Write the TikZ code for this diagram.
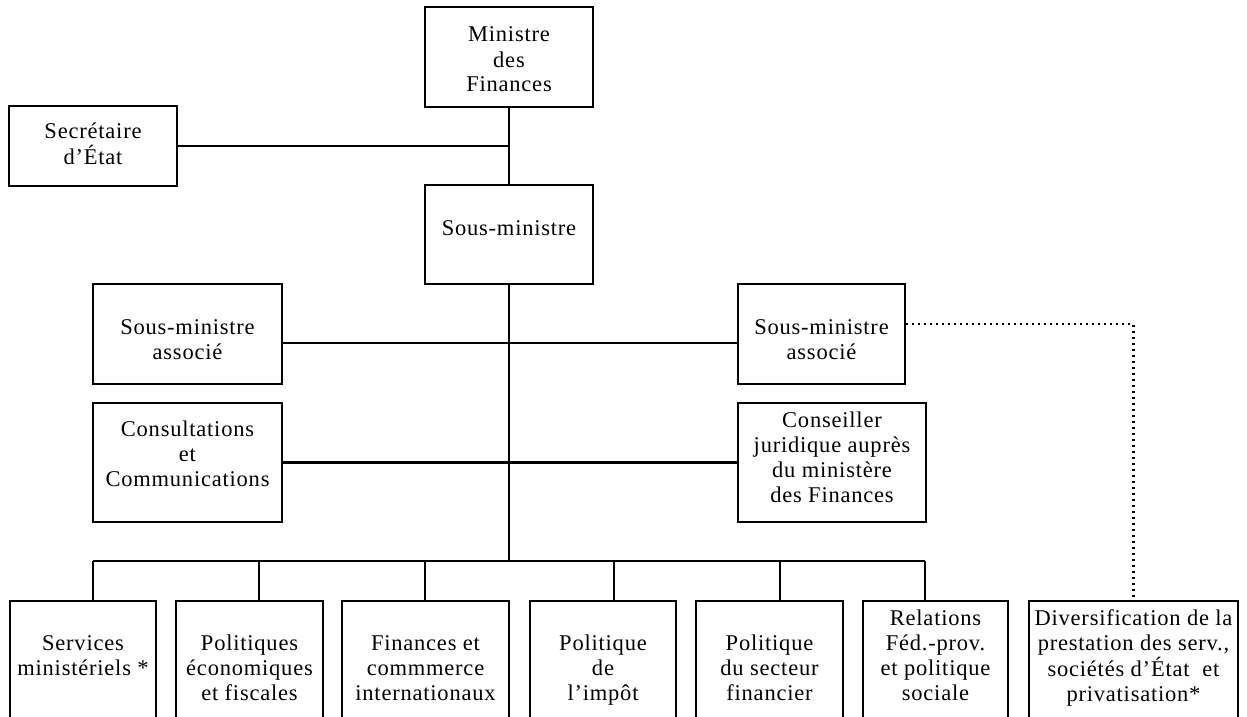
\documentclass[tikz,border=0pt]{standalone}
\usepackage{fontspec}
\setmainfont{Liberation Serif}[LetterSpace=3.5]
\newcommand\boxtext[1]{\begin{tabular}[t]{@{}c@{}}#1\end{tabular}}
\begin{document}
\begin{tikzpicture}[x=1pt,y=-1pt,
  orgbox/.style={draw, line width=2pt, inner sep=0pt},
  txt/.style={anchor=base, inner sep=0pt, font=\fontsize{22.5}{25}\selectfont},
  link/.style={line width=2.1pt},
  thinlink/.style={line width=1.4pt},
  dotlink/.style={line width=2.2pt, dash pattern=on 2.4pt off 3.6pt}]
\useasboundingbox (0,0) rectangle (1247,717);
\clip (0,0) rectangle (1247,717);
% boxes
\node[orgbox, minimum width=168pt, minimum height=100pt] (min) at (509,57) {};
\node[orgbox, minimum width=168pt, minimum height=80pt] (sec) at (93,146) {};
\node[orgbox, minimum width=168pt, minimum height=99pt] (sm) at (509,234.5) {};
\node[orgbox, minimum width=189pt, minimum height=100pt] (la) at (187.5,334) {};
\node[orgbox, minimum width=167pt, minimum height=100pt] (ra) at (821.5,334) {};
\node[orgbox, minimum width=189pt, minimum height=119pt] (cc) at (187.5,462.5) {};
\node[orgbox, minimum width=188pt, minimum height=119pt] (cj) at (832,462.5) {};
\node[orgbox, minimum width=146pt, minimum height=129pt] (b1) at (83,665.5) {};
\node[orgbox, minimum width=147pt, minimum height=129pt] (b2) at (249.5,665.5) {};
\node[orgbox, minimum width=167pt, minimum height=129pt] (b3) at (425.5,665.5) {};
\node[orgbox, minimum width=146pt, minimum height=129pt] (b4) at (603,665.5) {};
\node[orgbox, minimum width=147pt, minimum height=129pt] (b5) at (769.5,665.5) {};
\node[orgbox, minimum width=145pt, minimum height=129pt] (b6) at (935.5,665.5) {};
\node[orgbox, minimum width=209pt, minimum height=129pt] (b7) at (1133.5,665.5) {};
% texts
\node[txt] (tmin) at (509,42) {\boxtext{Ministre\\des\\Finances}};
\node[txt] (tsec) at (93,138) {\boxtext{Secrétaire\\d’État}};
\node[txt] (tsm) at (509,235) {\boxtext{Sous-ministre}};
\node[txt] (tla) at (187.5,334) {\boxtext{Sous-ministre\\associé}};
\node[txt] (tra) at (821.5,334) {\boxtext{Sous-ministre\\associé}};
\node[txt] (tcc) at (187.5,436) {\boxtext{Consultations\\et\\Communications}};
\node[txt] (tcj) at (832,427) {\boxtext{Conseiller\\juridique auprès\\du ministère\\des Finances}};
\node[txt] (tb1) at (83,650) {\boxtext{Services\\ministériels *}};
\node[txt] (tb2) at (249.5,650) {\boxtext{Politiques\\économiques\\et fiscales}};
\node[txt] (tb3) at (425.5,650) {\boxtext{Finances et\\commmerce\\internationaux}};
\node[txt] (tb4) at (603,650) {\boxtext{Politique\\de\\l’impôt}};
\node[txt] (tb5) at (769.5,650) {\boxtext{Politique\\du secteur\\financier}};
\node[txt] (tb6) at (935.5,625) {\boxtext{Relations\\Féd.-prov.\\et politique\\sociale}};
\node[txt] (tb7) at (1133.5,625) {\boxtext{Diversification de la\\prestation des serv.,\\sociétés d’État\ \ et\\privatisation*}};
% connectors
\coordinate (bus) at (509,561);
\coordinate (k1) at (93,561);
\coordinate (k2) at (259,561);
\coordinate (k3) at (425,561);
\coordinate (k4) at (614,561);
\coordinate (k5) at (780,561);
\coordinate (k6) at (925,561);
\coordinate (mid) at (531,343);
\draw[link] (min.south) -- (sm.north);
\draw[thinlink] (sec.east) -- (sec.east -| min.south);
\draw[link] (sm.south) -- (bus);
\draw[thinlink] (la.east |- mid) -- (ra.west |- mid);
\draw[link] (la.east |- mid) -- (mid);
\draw[link] (cc.east) -- (cj.west);
\draw[link] (k1) -- (k6);
\draw[link] (k1) -- (k1 |- b1.north);
\draw[link] (k2) -- (k2 |- b2.north);
\draw[link] (k3) -- (k3 |- b3.north);
\draw[link] (k4) -- (k4 |- b4.north);
\draw[link] (k5) -- (k5 |- b5.north);
\draw[link] (k6) -- (k6 |- b6.north);
\draw[dotlink] ([yshift=10pt]ra.east) -| (b7.north);
\end{tikzpicture}
\end{document}
